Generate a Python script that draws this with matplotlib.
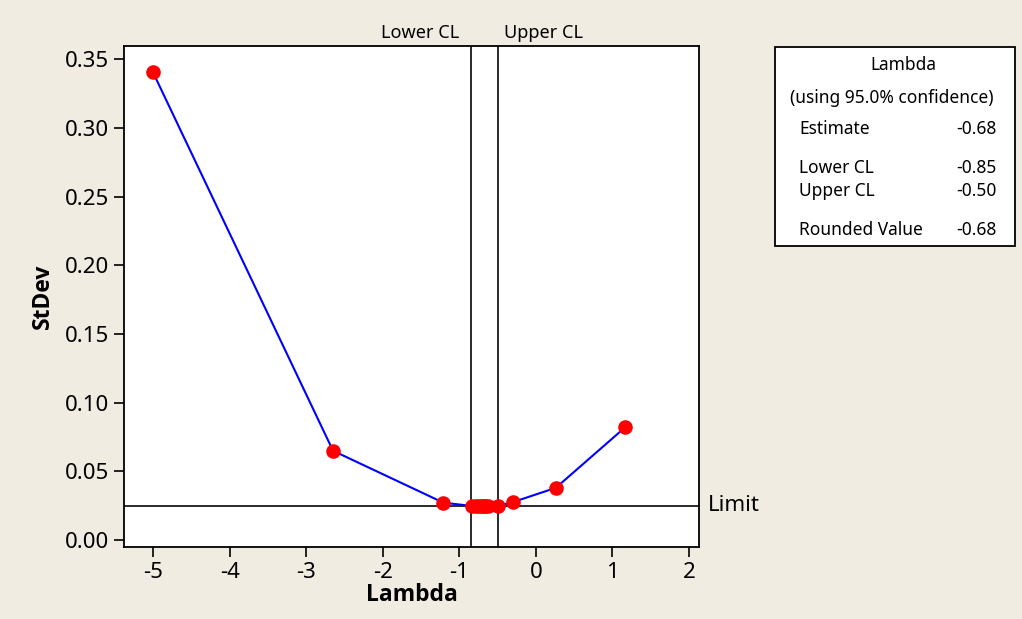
import matplotlib
matplotlib.use("Agg")
import matplotlib.pyplot as plt
from matplotlib.patches import Rectangle

lambdas = [-5.0, -2.65, -1.21, -0.84, -0.78, -0.74, -0.70, -0.68, -0.66, -0.62, -0.50, -0.30, 0.26, 1.17]
stdevs = [0.3405, 0.0650, 0.0272, 0.0248, 0.0246, 0.0245, 0.0245, 0.0245, 0.0245, 0.0246, 0.0248, 0.0276, 0.0380, 0.0823]
lower_cl = -0.85
upper_cl = -0.50
limit = 0.0248
xticks = [-5, -4, -3, -2, -1, 0, 1, 2]
yticks = [0.00, 0.05, 0.10, 0.15, 0.20, 0.25, 0.30, 0.35]
table_labels = ["Estimate", "Lower CL", "Upper CL", "Rounded Value"]
table_values = ["-0.68", "-0.85", "-0.50", "-0.68"]

plt.rcParams['font.family'] = ['Noto Sans', 'DejaVu Sans']
bold_font = ['Open Sans', 'DejaVu Sans']
bg = '#F0ECE2'
fig = plt.figure(figsize=(10.22, 6.19), dpi=100, facecolor=bg)
ax = fig.add_axes([124/1022, 1-547/619, 575/1022, 501/619])
ax.set_facecolor('white')

ax.axvline(lower_cl, color='#2a2a2a', lw=1.4, zorder=1)
ax.axvline(upper_cl, color='#2a2a2a', lw=1.4, zorder=1)
ax.axhline(limit, color='#2a2a2a', lw=1.4, zorder=1)
ax.plot(lambdas, stdevs, color='#0000FF', lw=1.5, zorder=2)
ax.plot(lambdas, stdevs, 'o', color='#FF0000', ms=10.5, zorder=3, markeredgewidth=0)

ax.set_xlim(-5.38, 2.13)
ax.set_ylim(-0.0051, 0.3598)
ax.set_xticks(xticks)
ax.set_xticklabels([str(t) for t in xticks])
ax.set_yticks(yticks)
ax.set_yticklabels([f"{t:.2f}" for t in yticks])
ax.tick_params(direction='out', length=7, width=1.2, labelsize=16, colors='black', pad=4)
for s in ax.spines.values():
    s.set_linewidth(1.3)
ax.set_xlabel("Lambda", fontsize=16.5, fontweight='bold', family=bold_font, labelpad=0)
ax.set_ylabel("StDev", fontsize=16.5, fontweight='bold', family=bold_font, labelpad=7)

ax.text(lower_cl - 0.15, 1.008, "Lower CL", transform=ax.get_xaxis_transform(),
        ha='right', va='bottom', fontsize=13)
ax.text(upper_cl + 0.08, 1.008, "Upper CL", transform=ax.get_xaxis_transform(),
        ha='left', va='bottom', fontsize=13)
ax.text(1.015, limit, "Limit", transform=ax.get_yaxis_transform(),
        ha='left', va='center', fontsize=16)

# info box
W, H = 1022, 619
box = Rectangle((775/W, 1-246/H), 240/W, 199/H, transform=fig.transFigure,
                facecolor='white', edgecolor='black', lw=1.3)
fig.patches.append(box)
fig.text(903/W, 1-65/H, "Lambda", ha='center', va='center', fontsize=12.5)
fig.text(892/W, 1-98/H, "(using 95.0% confidence)", ha='center', va='center', fontsize=12.5)
ys = [129, 168, 191, 230]
for lab, val, y in zip(table_labels, table_values, ys):
    fig.text(799/W, 1-y/H, lab, ha='left', va='center', fontsize=12.5)
    fig.text(997/W, 1-y/H, val, ha='right', va='center', fontsize=12.5)

fig.savefig("out.png", dpi=100, facecolor=bg)
